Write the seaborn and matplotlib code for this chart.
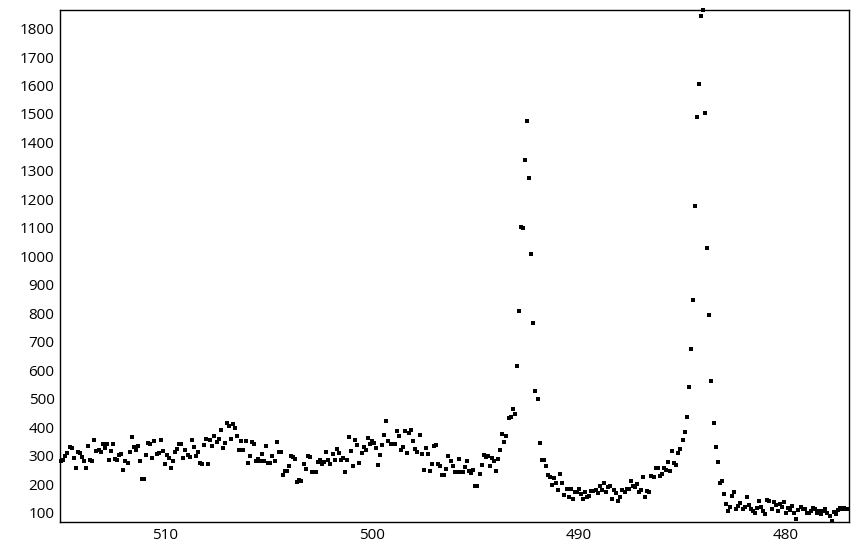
import numpy as np
import pandas as pd
import matplotlib
matplotlib.use("Agg")
import matplotlib.pyplot as plt
import seaborn as sns

# Counts, left (high binding energy) to right, step 0.1
counts_515_509 = [282, 286, 300, 311, 331, 329, 294, 259, 313, 309,
                  297, 282, 259, 336, 286, 282, 357, 318, 321, 315,
                  343, 329, 343, 286, 318, 343, 289, 286, 304, 308,
                  252, 282, 276, 315, 368, 331, 321, 336, 282, 220,
                  220, 304, 346, 343, 294, 353, 308, 311, 357, 318,
                  273, 304, 292, 259, 282, 315, 324, 343, 343, 294,
                  322, 303, 297, 357]
counts_509_502 = [332, 301, 315, 276, 273, 339, 360, 273, 357, 336,
                  371, 350, 360, 392, 329, 346, 417, 406, 360, 411,
                  399, 371, 322, 353, 322, 353, 276, 301, 350, 343,
                  283, 290, 283, 308, 283, 336, 276, 276, 301, 283,
                  350, 315, 315, 234, 248, 248, 266, 301, 297, 290,
                  210, 216, 213, 273, 255, 301, 297, 245, 245, 245,
                  280, 287, 273, 280]
counts_502_496 = [315, 287, 273, 308, 287, 325, 311, 287, 294, 245,
                  287, 368, 318, 266, 357, 339, 276, 311, 332, 322,
                  364, 343, 353, 346, 329, 269, 304, 339, 375, 424,
                  353, 343, 343, 343, 389, 371, 322, 332, 389, 311,
                  382, 392, 353, 325, 315, 375, 308, 252, 329, 308,
                  248, 273, 336, 339, 273, 266, 234, 234, 255, 301,
                  283, 266]
counts_496_493 = [245, 245, 290, 245, 245, 262, 283, 248, 241, 252,
                  196, 196, 238, 269, 304, 297, 301, 266, 294, 283,
                  248, 290, 322, 378, 350, 371, 434, 438, 466, 448]
counts_peak_1 = [615, 809, 1102, 1099, 1337, 1475, 1275, 1008, 767, 529, 499]
counts_490_488 = [346, 287, 287, 266, 234, 227, 199, 224, 206, 182,
                  238, 206, 164, 185, 157, 185, 150, 175, 175, 185,
                  168, 147]
counts_488_483 = [175, 157, 161, 178, 178, 182, 171, 196, 182, 206,
                  175, 190, 196, 150, 182, 171, 143, 157, 182, 175,
                  185, 185, 213, 196, 192, 203, 175, 182, 227, 157,
                  178, 175, 231, 227, 259, 259, 231, 238, 259, 252,
                  280, 248, 318, 276, 269, 311, 325, 357, 385, 438,
                  543]
counts_peak_2 = [675, 847, 1177, 1489, 1605, 1845, 1865, 1503, 1030, 795, 563, 415]
counts_483_477 = [330, 278, 205, 213, 168, 130, 108, 120, 160, 172,
                  112, 125, 135, 115, 120, 155, 128, 112, 105, 100,
                  118, 140, 122, 108, 95, 145, 140, 112, 138, 128,
                  105, 130, 120, 138, 100, 118, 110, 125, 100, 80,
                  110, 122, 112, 115, 100, 98, 105, 118, 112, 100,
                  108, 95, 105, 115, 100, 90, 70, 102, 95, 110,
                  118, 115, 118, 112, 115]

x_start = 515.0
x_step = 0.1
x_ticks = [510, 500, 490, 480]
y_ticks = list(range(100, 1900, 100))

counts = (counts_515_509 + counts_509_502 + counts_502_496 + counts_496_493
          + counts_peak_1 + counts_490_488 + counts_488_483 + counts_peak_2
          + counts_483_477)
energy = np.round(x_start - x_step * np.arange(len(counts)), 1)
df = pd.DataFrame({"energy": energy, "counts": counts})

sns.set_style("white")
plt.rcParams["font.family"] = ["Open Sans", "DejaVu Sans"]

fig = plt.figure(figsize=(8.59, 5.50), dpi=100)
ax = fig.add_axes([60 / 859, 28 / 550, 789 / 859, 512 / 550])

sns.scatterplot(data=df, x="energy", y="counts", ax=ax,
                marker="s", s=4.7, color="black", linewidth=0, clip_on=False)

ax.set_xlim(energy.max() + 0.06, energy.min() - 0.04)
ax.set_ylim(df["counts"].min() - 2, df["counts"].max())
ax.set_xticks(x_ticks)
ax.set_yticks(y_ticks)
ax.set_xlabel("")
ax.set_ylabel("")
ax.tick_params(direction="in", length=3, width=1, colors="black",
               labelsize=11, pad=4)
for side in ax.spines.values():
    side.set_color("black")
    side.set_linewidth(1)

fig.savefig("out.png", dpi=100)
